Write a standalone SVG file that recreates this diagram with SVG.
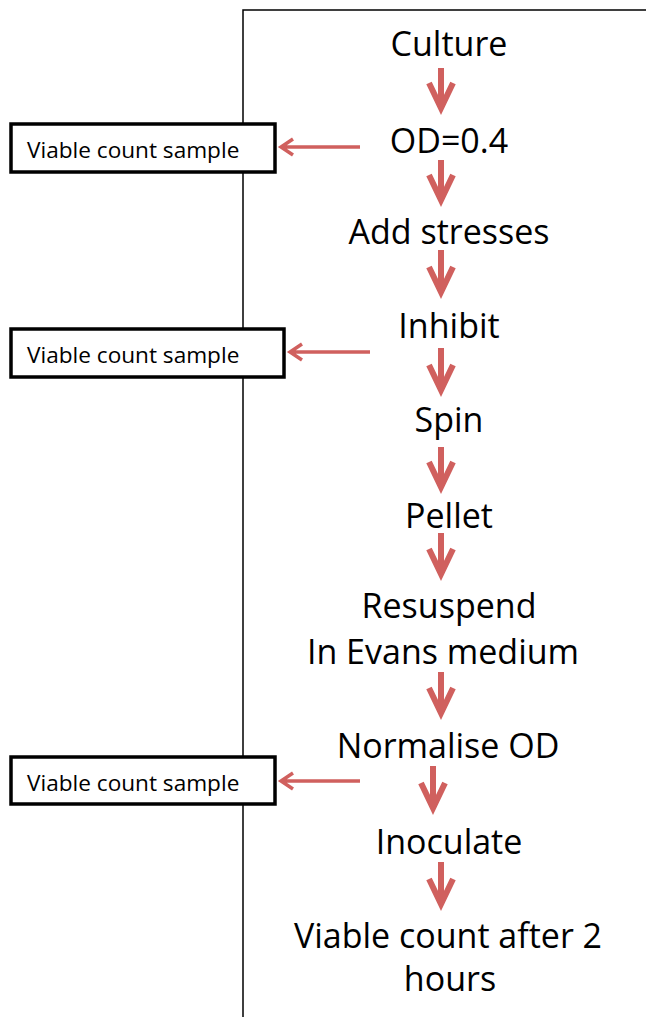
<svg xmlns="http://www.w3.org/2000/svg" width="646" height="1017" viewBox="0 0 646 1017">
<style>
.t{font-family:"Open Sans","Liberation Sans",sans-serif;font-size:34px;fill:#000;text-anchor:middle}
.bt{font-family:"Open Sans","Liberation Sans",sans-serif;font-size:22.6px;fill:#000}
.box{fill:#fff;stroke:#000;stroke-width:3.5}
.frame{fill:none;stroke:#000;stroke-width:1.5}
.da{fill:none;stroke:#d0605e;stroke-width:6;stroke-linejoin:miter}
.ha{fill:none;stroke:#d0605e;stroke-width:3.5;stroke-linejoin:miter}
</style>
<g id="frame"><path class="frame" d="M243,1017 V10 H646"/></g>
<g id="connectors">
<path class="da" d="M441,68 V108 M429,83 L441,108 L453,83"/>
<path class="da" d="M441,160 V200 M429,175 L441,200 L453,175"/>
<path class="da" d="M441,250 V292 M429,267 L441,292 L453,267"/>
<path class="da" d="M441,348 V390 M429,365 L441,390 L453,365"/>
<path class="da" d="M441,447 V487 M429,462 L441,487 L453,462"/>
<path class="da" d="M441,533 V574 M429,549 L441,574 L453,549"/>
<path class="da" d="M441,672 V713 M429,688 L441,713 L453,688"/>
<path class="da" d="M433,766 V808 M421,783 L433,808 L445,783"/>
<path class="da" d="M441,862 V904 M429,879 L441,904 L453,879"/>
<path class="ha" d="M360,147 H281 M293,139 L281,147 L293,155"/>
<path class="ha" d="M370,352 H290 M302,344 L290,352 L302,360"/>
<path class="ha" d="M360,781 H281 M293,773 L281,781 L293,789"/>
</g>
<g id="culture"><text class="t" x="449" y="56">Culture</text></g>
<g id="od"><text class="t" x="449" y="153">OD=0.4</text></g>
<g id="add-stresses"><text class="t" x="449" y="244">Add stresses</text></g>
<g id="inhibit"><text class="t" x="449" y="338">Inhibit</text></g>
<g id="spin"><text class="t" x="449" y="432">Spin</text></g>
<g id="pellet"><text class="t" x="449" y="528">Pellet</text></g>
<g id="resuspend"><text class="t" x="449" y="618">Resuspend</text><text class="t" x="443" y="664">In Evans medium</text></g>
<g id="normalise"><text class="t" x="448" y="758">Normalise OD</text></g>
<g id="inoculate"><text class="t" x="449" y="854">Inoculate</text></g>
<g id="viable-final"><text class="t" x="448" y="948">Viable count after 2</text><text class="t" x="450" y="991">hours</text></g>
<g id="sample1"><rect class="box" x="11" y="124" width="264" height="48"/><text class="bt" x="27" y="158">Viable count sample</text></g>
<g id="sample2"><rect class="box" x="11" y="329" width="273" height="48"/><text class="bt" x="27" y="363">Viable count sample</text></g>
<g id="sample3"><rect class="box" x="11" y="757" width="264" height="47"/><text class="bt" x="27" y="791">Viable count sample</text></g>
</svg>
